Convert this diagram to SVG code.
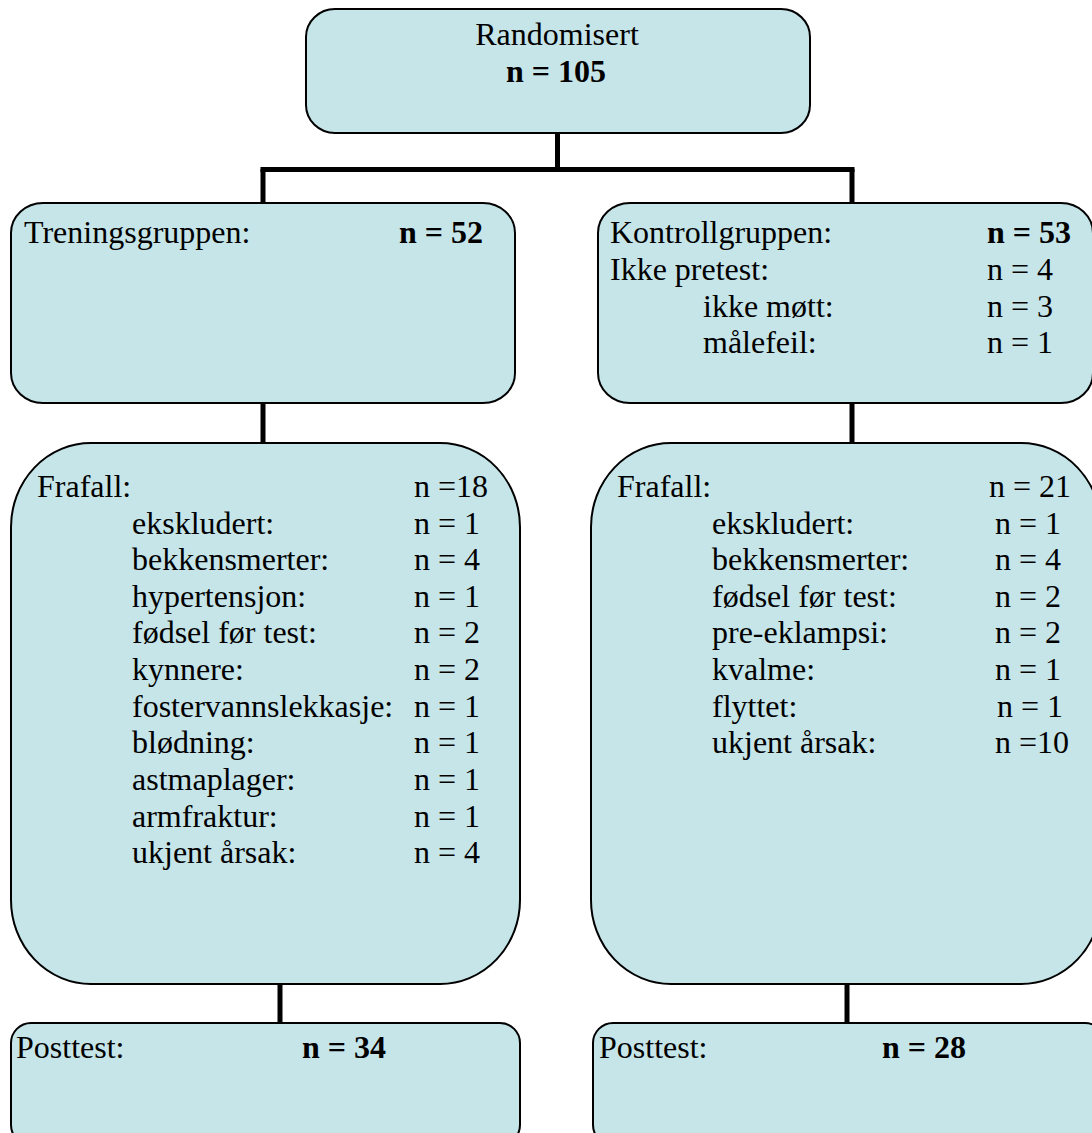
<svg xmlns="http://www.w3.org/2000/svg" width="1092" height="1133" viewBox="0 0 1092 1133" font-family="Liberation Serif, Times New Roman, DejaVu Serif, serif" font-size="32">
<style>
.box{fill:#c5e5e9;stroke:#000;stroke-width:2}
.t{fill:#000}
.b{font-weight:bold}
.c{stroke:#000;stroke-width:5;fill:none;stroke-linecap:butt}
</style>
<rect x="0" y="0" width="1092" height="1133" fill="#fff"/>
<g id="connectors">
<line class="c" x1="557.5" y1="133" x2="557.5" y2="170"/>
<line class="c" x1="260.5" y1="169.5" x2="854.5" y2="169.5"/>
<line class="c" x1="263" y1="169" x2="263" y2="203"/>
<line class="c" x1="852" y1="169" x2="852" y2="203"/>
<line class="c" x1="263" y1="403" x2="263" y2="443"/>
<line class="c" x1="852" y1="403" x2="852" y2="443"/>
<line class="c" x1="280" y1="984" x2="280" y2="1023"/>
<line class="c" x1="847" y1="984" x2="847" y2="1023"/>
</g>
<g id="randomisert">
<rect class="box" x="306" y="9" width="504" height="124" rx="29" ry="28"/>
<text class="t" x="557" y="45" text-anchor="middle" font-family="Liberation Serif">Randomisert</text>
<text class="t b" x="556" y="82" text-anchor="middle">n = 105</text>
</g>
<g id="treningsgruppen">
<rect class="box" x="11" y="203" width="504" height="200" rx="32" ry="30"/>
<text class="t" x="24" y="243">Treningsgruppen:</text>
<text class="t b" x="399" y="243">n = 52</text>
</g>
<g id="kontrollgruppen">
<rect class="box" x="598" y="203" width="495" height="200" rx="32" ry="30"/>
<text class="t" x="610" y="243">Kontrollgruppen:</text>
<text class="t b" x="987" y="243">n = 53</text>
<text class="t" x="610" y="280">Ikke pretest:</text>
<text class="t" x="987" y="280">n = 4</text>
<text class="t" x="703" y="317">ikke møtt:</text>
<text class="t" x="987" y="317">n = 3</text>
<text class="t" x="703" y="353">målefeil:</text>
<text class="t" x="987" y="353">n = 1</text>
</g>
<g id="frafall-trening">
<rect class="box" x="11" y="443" width="509" height="541" rx="80" ry="84"/>
<text class="t" x="37" y="497">Frafall:</text>
<text class="t" x="414" y="497">n =18</text>
<text class="t" x="132" y="534">ekskludert:</text>
<text class="t" x="414" y="534">n = 1</text>
<text class="t" x="132" y="570">bekkensmerter:</text>
<text class="t" x="414" y="570">n = 4</text>
<text class="t" x="132" y="607">hypertensjon:</text>
<text class="t" x="414" y="607">n = 1</text>
<text class="t" x="132" y="643">fødsel før test:</text>
<text class="t" x="414" y="643">n = 2</text>
<text class="t" x="132" y="680">kynnere:</text>
<text class="t" x="414" y="680">n = 2</text>
<text class="t" x="132" y="717">fostervannslekkasje:</text>
<text class="t" x="414" y="717">n = 1</text>
<text class="t" x="132" y="753">blødning:</text>
<text class="t" x="414" y="753">n = 1</text>
<text class="t" x="132" y="790">astmaplager:</text>
<text class="t" x="414" y="790">n = 1</text>
<text class="t" x="132" y="827">armfraktur:</text>
<text class="t" x="414" y="827">n = 1</text>
<text class="t" x="132" y="863">ukjent årsak:</text>
<text class="t" x="414" y="863">n = 4</text>
</g>
<g id="frafall-kontroll">
<rect class="box" x="591" y="443" width="510" height="541" rx="80" ry="84"/>
<text class="t" x="617" y="497">Frafall:</text>
<text class="t" x="989" y="497">n = 21</text>
<text class="t" x="712" y="534">ekskludert:</text>
<text class="t" x="995" y="534">n = 1</text>
<text class="t" x="712" y="570">bekkensmerter:</text>
<text class="t" x="995" y="570">n = 4</text>
<text class="t" x="712" y="607">fødsel før test:</text>
<text class="t" x="995" y="607">n = 2</text>
<text class="t" x="712" y="643">pre-eklampsi:</text>
<text class="t" x="995" y="643">n = 2</text>
<text class="t" x="712" y="680">kvalme:</text>
<text class="t" x="995" y="680">n = 1</text>
<text class="t" x="712" y="717">flyttet:</text>
<text class="t" x="997" y="717">n = 1</text>
<text class="t" x="712" y="753">ukjent årsak:</text>
<text class="t" x="995" y="753">n =10</text>
</g>
<g id="posttest-trening">
<rect class="box" x="11" y="1023" width="509" height="122" rx="20" ry="20"/>
<text class="t" x="16" y="1058">Posttest:</text>
<text class="t b" x="302" y="1058">n = 34</text>
</g>
<g id="posttest-kontroll">
<rect class="box" x="593" y="1023" width="512" height="122" rx="20" ry="20"/>
<text class="t" x="599" y="1058">Posttest:</text>
<text class="t b" x="882" y="1058">n = 28</text>
</g>
</svg>
